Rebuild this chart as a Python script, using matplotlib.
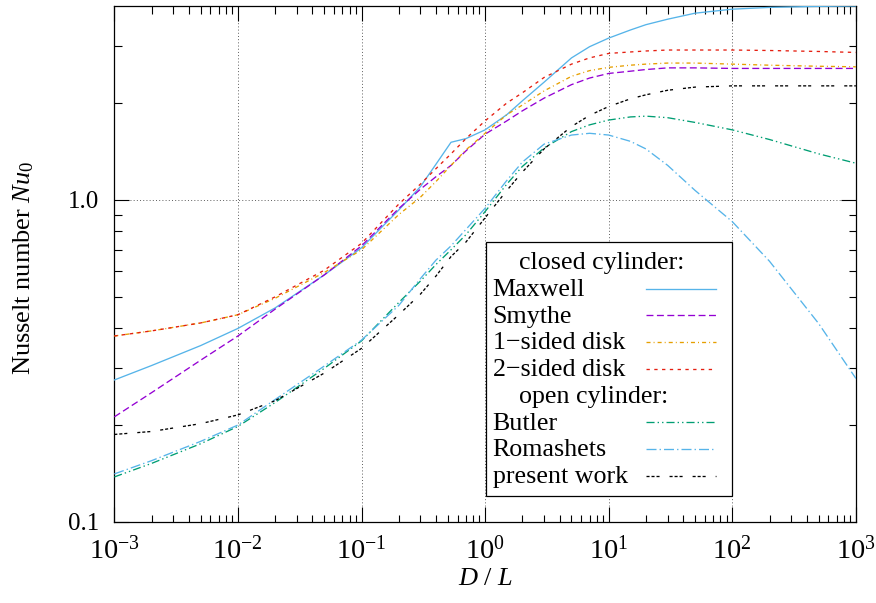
import matplotlib
matplotlib.use("Agg")
import matplotlib.pyplot as plt
from matplotlib.lines import Line2D
from matplotlib.patches import Rectangle
from matplotlib.ticker import FixedLocator, FixedFormatter, LogLocator, NullFormatter

plt.rcParams['font.family'] = ['Liberation Serif', 'DejaVu Serif']
plt.rcParams['mathtext.fontset'] = 'custom'
plt.rcParams['mathtext.rm'] = 'Liberation Serif'
plt.rcParams['mathtext.it'] = 'Liberation Serif:italic'
plt.rcParams['mathtext.bf'] = 'Liberation Serif:bold'
plt.rcParams['lines.scale_dashes'] = False

# ---------------- data ----------------
d_over_l = [0.001, 0.002, 0.005, 0.01, 0.02, 0.05, 0.1, 0.2, 0.3, 0.4, 0.53, 0.7,
            1, 1.5, 2, 3, 5, 7, 10, 15, 20, 30, 50, 100, 200, 500, 1000]

maxwell = [0.276, 0.306, 0.353, 0.399, 0.462, 0.585, 0.71, 0.93, 1.10, 1.29, 1.51, 1.55,
           1.65, 1.84, 2.03, 2.32, 2.76, 2.99, 3.18, 3.37, 3.50, 3.64, 3.80, 3.91, 3.96, 3.99, 4.0]
smythe = [0.212, 0.252, 0.318, 0.378, 0.458, 0.585, 0.72, 0.94, 1.08, 1.18, 1.28, 1.42,
          1.60, 1.76, 1.89, 2.07, 2.28, 2.39, 2.47, 2.51, 2.54, 2.57, 2.57, 2.56, 2.56, 2.56, 2.56]
disk_1sided = [0.378, 0.392, 0.415, 0.44, 0.495, 0.595, 0.70, 0.90, 1.02, 1.14, 1.28, 1.43,
               1.61, 1.84, 1.97, 2.18, 2.42, 2.52, 2.58, 2.62, 2.64, 2.66, 2.66, 2.64, 2.62, 2.60, 2.59]
disk_2sided = [0.378, 0.392, 0.415, 0.44, 0.50, 0.605, 0.733, 0.97, 1.12, 1.25, 1.39, 1.55,
               1.76, 2.0, 2.15, 2.40, 2.64, 2.76, 2.85, 2.88, 2.90, 2.92, 2.92, 2.92, 2.91, 2.89, 2.87]
butler = [0.138, 0.152, 0.175, 0.198, 0.235, 0.30, 0.365, 0.48, 0.56, 0.63, 0.70, 0.78,
          0.92, 1.12, 1.27, 1.45, 1.63, 1.71, 1.77, 1.81, 1.82, 1.80, 1.74, 1.65, 1.54, 1.39, 1.30]
romashets = [0.141, 0.155, 0.178, 0.20, 0.24, 0.305, 0.367, 0.47, 0.57, 0.65, 0.72, 0.81,
             0.942, 1.15, 1.31, 1.49, 1.59, 1.61, 1.59, 1.52, 1.44, 1.28, 1.07, 0.856, 0.645, 0.413, 0.279]
present_work = [0.187, 0.191, 0.202, 0.215, 0.238, 0.29, 0.346, 0.44, 0.51, 0.58, 0.667, 0.74,
                0.88, 1.07, 1.22, 1.44, 1.69, 1.83, 1.95, 2.06, 2.12, 2.19, 2.24, 2.26, 2.26, 2.26, 2.26]

labels = ["Maxwell", "Smythe", "1\u2212sided disk", "2\u2212sided disk",
          "Butler", "Romashets", "present work"]
x_major = [1e-3, 1e-2, 1e-1, 1e0, 1e1, 1e2, 1e3]
x_major_labels = [r"$10^{-3}$", r"$10^{-2}$", r"$10^{-1}$", r"$10^{0}$",
                  r"$10^{1}$", r"$10^{2}$", r"$10^{3}$"]
y_major = [0.1, 1.0]
y_major_labels = ["0.1", "1.0"]
y_minor = [0.2, 0.3, 0.4, 0.5, 0.6, 0.7, 0.8, 0.9, 2, 3]

# ---------------- styles ----------------
W, H = 876, 603
styles = [
    dict(color='#56B4E9', linestyle='-'),
    dict(color='#9400D3', dashes=(5.0, 2.5)),
    dict(color='#E69F00', dashes=(2.9, 2.2, 0.7, 2.2)),
    dict(color='#E51E10', dashes=(2.4, 3.2)),
    dict(color='#009E73', dashes=(5.8, 2.2, 1.0, 2.2, 1.0, 2.2)),
    dict(color='#56B4E9', dashes=(7.2, 2.2, 1.0, 2.2)),
    dict(color='black', dashes=(2.2, 1.4, 2.2, 1.4, 2.2, 7.2)),
]
series = [maxwell, smythe, disk_1sided, disk_2sided, butler, romashets, present_work]

fig = plt.figure(figsize=(W / 100, H / 100), dpi=100)
ax = fig.add_axes([114.3 / W, 1 - 522 / H, (855.9 - 114.3) / W, (522 - 6) / H])

for ys, st in zip(series, styles):
    ax.plot(d_over_l, ys, lw=0.95, zorder=3, **st)

ax.set_xscale('log')
ax.set_yscale('log')
ax.set_xlim(1e-3, 1e3)
ax.set_ylim(0.1, 4.0)

ax.xaxis.set_major_locator(FixedLocator(x_major))
ax.xaxis.set_major_formatter(FixedFormatter(x_major_labels))
ax.xaxis.set_minor_locator(LogLocator(base=10, subs=range(2, 10), numticks=100))
ax.xaxis.set_minor_formatter(NullFormatter())
ax.yaxis.set_major_locator(FixedLocator(y_major))
ax.yaxis.set_major_formatter(FixedFormatter(y_major_labels))
ax.yaxis.set_minor_locator(FixedLocator(y_minor))
ax.yaxis.set_minor_formatter(NullFormatter())

ax.tick_params(which='both', direction='in', top=True, right=True, width=0.8)
ax.tick_params(which='major', length=10.5)
ax.tick_params(which='minor', length=5.4)
ax.tick_params(axis='x', which='major', pad=10.5, labelsize=20.5)
ax.tick_params(axis='y', which='major', pad=11, labelsize=18)
for sp in ax.spines.values():
    sp.set_linewidth(0.9)

ax.grid(which='major', color='#444444', lw=0.6, dashes=(0.7, 1.6), zorder=1)
ax.set_axisbelow(True)

fig.text(23.5 / W, 1 - 268 / H, r"Nusselt number $\mathit{Nu}_0$", rotation=90,
         ha='center', va='center', fontsize=19)
fig.text(485 / W, 1 - 579 / H, r"$D\ /\ L$", ha='center', va='center', fontsize=19)

# ---------------- key box ----------------
def fx(px):
    return px / W

def fy(py):
    return 1 - py / H

box = Rectangle((fx(485.7), fy(495.7)), fx(731.7) - fx(485.7), fy(241.7) - fy(495.7),
                transform=fig.transFigure, facecolor='white', edgecolor='black', lw=0.9, zorder=5)
fig.add_artist(box)

key_fs = 18.7
fig.text(fx(519), fy(269), "closed cylinder:", fontsize=key_fs, ha='left', va='baseline', zorder=6)
fig.text(fx(519), fy(403.3), "open cylinder:", fontsize=key_fs, ha='left', va='baseline', zorder=6)
text_base = [296, 322.7, 349.3, 376, 430, 456.3, 482.6]
line_y = [288.5, 315.2, 341.8, 368.5, 422.2, 448.8, 475.5]
for lab, st, tb, ly in zip(labels, styles, text_base, line_y):
    fig.text(fx(492.7), fy(tb), lab, fontsize=key_fs, ha='left', va='baseline', zorder=6)
    fig.add_artist(Line2D([fx(646), fx(716)], [fy(ly), fy(ly)], transform=fig.transFigure,
                          lw=0.95, zorder=6, **st))

fig.savefig("out.png", dpi=100)
